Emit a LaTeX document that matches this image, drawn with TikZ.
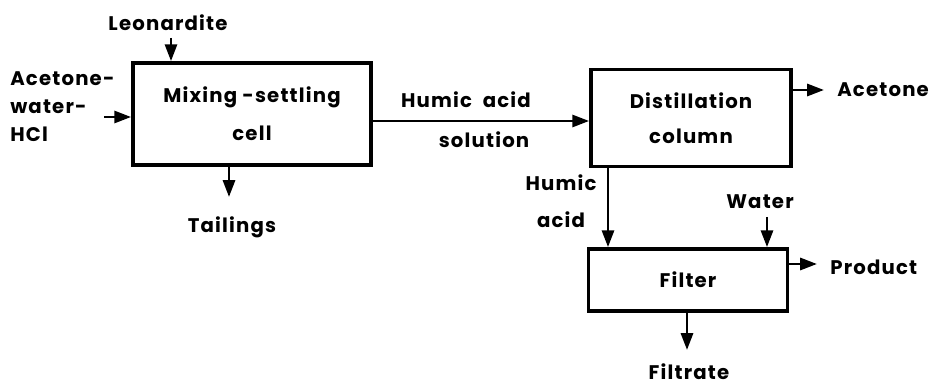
\documentclass[tikz,border=0pt]{standalone}
\usepackage{fontspec}
\setmainfont{Poppins}[LetterSpace=6]
\usetikzlibrary{arrows.meta}

\begin{document}
\begin{tikzpicture}[x=0.025cm,y=-0.025cm,
    every node/.style={font=\fontsize{14}{20}\selectfont\bfseries},
    unit/.style={draw,line width=2.6pt,inner sep=0pt,align=center},
    flow/.style={line width=2pt,-{Triangle[length=4.2mm,width=3mm]}},
    lbl/.style={inner sep=0pt,align=center}]
    \useasboundingbox (0,0) rectangle (934,386);

    % Les appareils
    \node[unit,minimum width=5.95cm,minimum height=2.55cm] (mix) at (252,114)
        {Mixing -settling\\[7pt] cell};
    \node[unit,minimum width=5cm,minimum height=2.42cm] (dist) at (691,118)
        {Distillation\\[5pt] column};
    \node[unit,minimum width=4.97cm,minimum height=1.55cm] (filt) at (688,280)
        {Filter};

    % Les entrees
    \node[lbl] (leo) at (168,23) {Leonardite};
    \coordinate (leoin) at (171,38);
    \draw[flow] (leoin) -- (leoin |- mix.north);

    \node[lbl,anchor=west,align=left] (feed) at (10,107) {Acetone-\\water-\\HCl};
    \coordinate (feedin) at (104,117);
    \draw[flow] (feedin) -- (feedin -| mix.west);

    \node[lbl] (water) at (760,202) {Water};
    \coordinate (watin) at (767,217);
    \draw[flow] (watin) -- (watin |- filt.north);

    % Les liaisons
    \coordinate (hsol) at (371,121);
    \draw[flow] (hsol -| mix.east) -- (hsol -| dist.west);
    \node[lbl] (hsoltop) at (466,100) {Humic\ \ acid};
    \node[lbl] (hsolbot) at (484,140) {solution};

    \coordinate (hacid) at (608,167);
    \draw[flow] (hacid |- dist.south) -- (hacid |- filt.north);
    \node[lbl] (hacidlbl) at (561,201) {Humic\\[6pt] acid};

    % Les sorties
    \coordinate (tailout) at (229,197);
    \draw[flow] (tailout |- mix.south) -- (tailout);
    \node[lbl] (tail) at (232,227) {Tailings};

    \coordinate (aceout) at (824,90);
    \draw[flow] (aceout -| dist.east) -- (aceout);
    \node[lbl,anchor=west] (ace) at (837,90) {Acetone};

    \coordinate (prodout) at (817,264);
    \draw[flow] (prodout -| filt.east) -- (prodout);
    \node[lbl,anchor=west] (prod) at (830,267) {Product};

    \coordinate (filtout) at (687,350);
    \draw[flow] (filtout |- filt.south) -- (filtout);
    \node[lbl] (filtrate) at (689,372) {Filtrate};
\end{tikzpicture}
\end{document}
